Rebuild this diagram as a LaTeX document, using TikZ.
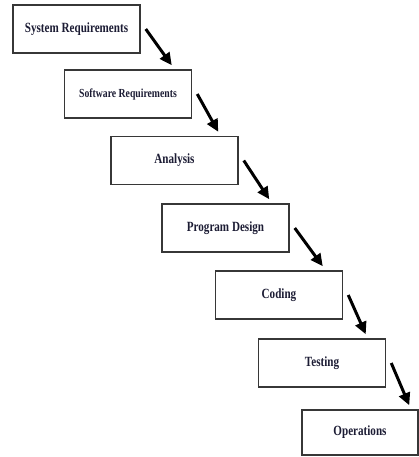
\documentclass[tikz,border=0pt]{standalone}
\usepackage{fontspec}
\usetikzlibrary{arrows.meta}
\newfontfamily\boxfont[FakeStretch=0.79]{Liberation Serif}
\definecolor{boxline}{RGB}{55, 55, 55}
\definecolor{boxtext}{RGB}{28, 28, 52}

\begin{document}
\begin{tikzpicture}[
        box/.style={draw=boxline, line width=0.85pt, fill=white, minimum width=2.54cm, minimum height=0.96cm, align=center, text=boxtext, font=\boxfont\fontsize{8}{9}\selectfont\bfseries},
        arrow/.style={-{Triangle[length=7pt,width=6.5pt]}, line width=1.7pt, black}
    ]
        \useasboundingbox (0,0) rectangle (8.38,-9.14);
        \node[box] (sysreq) at (1.53,-0.58) {System Requirements};
        \node[box, font=\boxfont\fontsize{7}{8}\selectfont\bfseries] (swreq) at (2.56,-1.88) {Software Requirements};
        \node[box] (analysis) at (3.49,-3.21) {Analysis};
        \node[box] (design) at (4.51,-4.56) {Program Design};
        \node[box] (coding) at (5.58,-5.90) {Coding};
        \node[box] (testing) at (6.44,-7.26) {Testing};
        \node[box, minimum width=2.32cm, minimum height=0.9cm] (ops) at (7.20,-8.65) {Operations};
        \draw[arrow] ([xshift=0.1cm]sysreq.east) -- ([shift={(2.16,0.08)}]swreq.north west);
        \draw[arrow] ([xshift=0.1cm]swreq.east) -- ([shift={(2.16,0.08)}]analysis.north west);
        \draw[arrow] ([xshift=0.1cm]analysis.east) -- ([shift={(2.16,0.08)}]design.north west);
        \draw[arrow] ([xshift=0.1cm]design.east) -- ([shift={(2.16,0.08)}]coding.north west);
        \draw[arrow] ([xshift=0.1cm]coding.east) -- ([shift={(2.16,0.08)}]testing.north west);
        \draw[arrow] ([xshift=0.1cm]testing.east) -- ([shift={(2.16,0.08)}]ops.north west);
    \end{tikzpicture}
\end{document}
